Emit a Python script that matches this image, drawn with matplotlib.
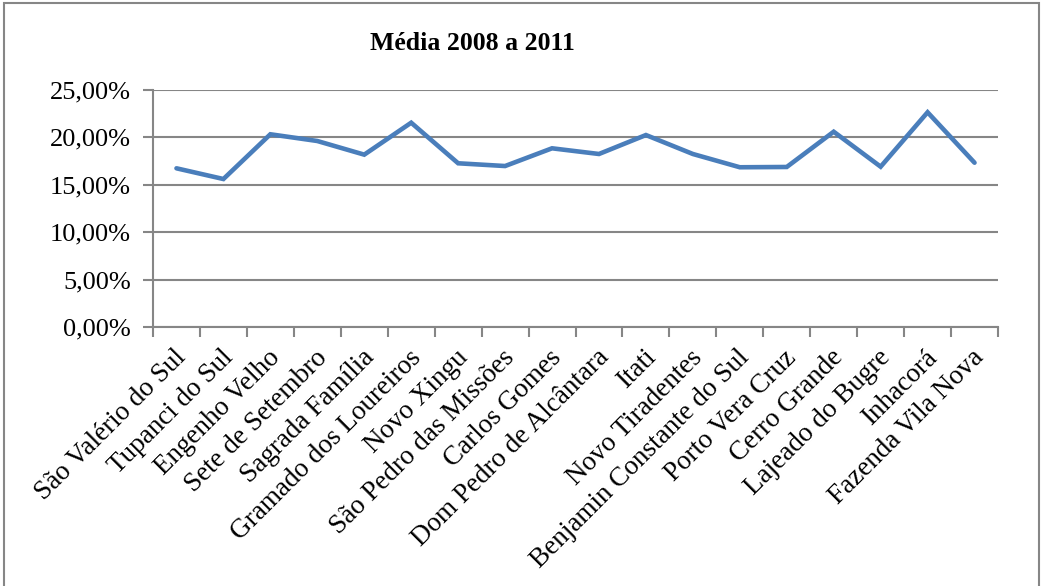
import matplotlib
matplotlib.use("Agg")
import matplotlib.pyplot as plt
import matplotlib.transforms as mtransforms
from matplotlib.ticker import FuncFormatter, FixedLocator
from matplotlib.patches import Rectangle

categories = ["São Valério do Sul", "Tupanci do Sul", "Engenho Velho", "Sete de Setembro",
              "Sagrada Família", "Gramado dos Loureiros", "Novo Xingu", "São Pedro das Missões",
              "Carlos Gomes", "Dom Pedro de Alcântara", "Itati", "Novo Tiradentes",
              "Benjamin Constante do Sul", "Porto Vera Cruz", "Cerro Grande", "Lajeado do Bugre",
              "Inhacorá", "Fazenda Vila Nova"]
values = [16.74, 15.61, 20.33, 19.62, 18.18, 21.55, 17.27, 16.98, 18.85, 18.25,
          20.25, 18.25, 16.85, 16.88, 20.6, 16.91, 22.65, 17.33]
title = "Média 2008 a 2011"

plt.rcParams['font.family'] = ['Liberation Serif', 'DejaVu Serif']

W, H = 1043, 586
fig = plt.figure(figsize=(W/100, H/100), dpi=100)
ax = fig.add_axes([153/W, 1-327/H, (998-153)/W, (327-90)/H])

grey = '#868686'
x = list(range(len(categories)))
ax.plot(x, values, color='#4A7EBB', lw=3.3, solid_joinstyle='miter', solid_capstyle='round', zorder=3)

ax.set_xlim(-0.5, len(categories)-0.5)
ax.set_ylim(0, 25)
ax.set_yticks([0, 5, 10, 15, 20, 25])
ax.yaxis.set_major_formatter(FuncFormatter(lambda v, p: f"{v:.2f}".replace('.', ',') + "%"))
ax.grid(axis='y', color=grey, lw=1.5, zorder=1)
ax.set_axisbelow(True)

# x ticks at boundaries, labels at centers
ax.xaxis.set_major_locator(FixedLocator([i - 0.5 for i in range(len(categories)+1)]))
ax.xaxis.set_major_formatter(FuncFormatter(lambda v, p: ""))
ax.xaxis.set_minor_locator(FixedLocator(x))
ax.set_xticklabels(categories, minor=True, rotation=45, ha='right', va='center',
                   rotation_mode='anchor', fontsize=19.5)
ax.tick_params(axis='x', which='minor', length=0, pad=18)
ax.tick_params(axis='x', which='major', length=7, width=1.5, color=grey, direction='out')
ax.tick_params(axis='y', length=7, width=1.5, color=grey, direction='out', labelsize=19, pad=9)

offset = mtransforms.ScaledTranslation(6/100, -2/100, fig.dpi_scale_trans)
for lbl in ax.get_xticklabels(minor=True):
    lbl.set_transform(lbl.get_transform() + offset)

for s in ['top', 'right']:
    ax.spines[s].set_visible(False)
for s in ['left', 'bottom']:
    ax.spines[s].set_color(grey)
    ax.spines[s].set_linewidth(1.5)

fig.text(472/W, 1-43/H, title, ha='center', va='center', fontsize=18.5, fontweight='bold')

fig.patches.append(Rectangle((4/W, -0.05), (1039-4)/W, 1-3/H + 0.05, transform=fig.transFigure,
                             fill=False, edgecolor=grey, lw=1.5))

fig.savefig("out.png", dpi=100)
